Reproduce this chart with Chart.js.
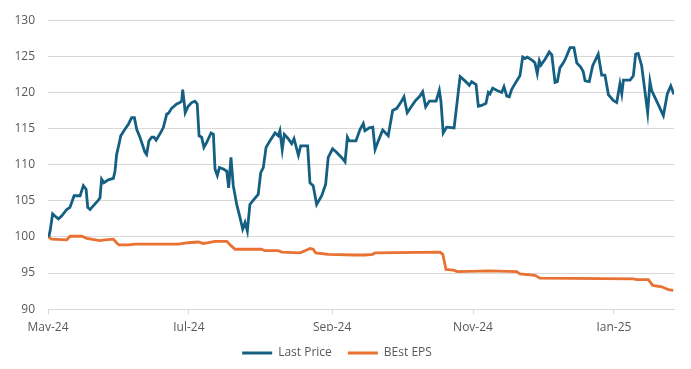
<!DOCTYPE html>
<html>
<head>
<meta charset="utf-8">
<script src="https://cdn.jsdelivr.net/npm/chart.js@4.4.1/dist/chart.umd.min.js"></script>
<style>
    html, body { margin: 0; padding: 0; background: #fff; }
</style>
</head>
<body>
<canvas id="priceChart" width="691" height="369"></canvas>
<script>
// x values are calendar days counted from 1 May 2024
const monthTicks = [0, 61, 123, 184, 245];
const monthLabels = ['May-24', 'Jul-24', 'Sep-24', 'Nov-24', 'Jan-25'];

const priceDays = [
    0.3, 0.9, 2.0, 3.0, 4.5, 5.9, 8.1, 9.5, 10.3, 11.3, 13.9, 15.3, 16.5, 17.2, 18.2, 19.6,
    21.8, 22.5, 23.2, 24.2, 26.1, 28.3, 29.0, 29.7, 30.7, 31.5, 33.3, 34.8, 36.2, 37.4, 38.4,
    39.8, 42.0, 42.7, 43.7, 44.9, 45.9, 46.8, 48.5, 49.9, 51.4, 52.1, 53.5, 55.7, 57.1, 57.9,
    58.3, 58.9, 59.4, 60.7, 62.2, 63.6, 64.6, 65.4, 66.5, 67.5, 68.7, 70.6, 71.6, 72.3, 73.3,
    74.2, 75.9, 77.4, 78.2, 79.2, 80.2, 81.7, 83.1, 84.3, 85.3, 86.3, 87.4, 88.9, 91.0, 92.1,
    93.2, 94.4, 96.1, 98.3, 99.7, 100.4, 101.4, 102.3, 104.0, 105.5, 106.5, 108.4, 109.4,
    112.4, 113.4, 114.8, 116.3, 118.5, 120.2, 121.3, 123.2, 125.0, 127.1, 128.6, 129.6, 130.4,
    133.3, 135.1, 136.5, 137.2, 139.1, 140.6, 141.6, 143.0, 144.9, 147.3, 149.2, 151.0, 152.7,
    154.1, 155.5, 157.4, 158.9, 161.0, 162.2, 163.5, 165.1, 168.0, 169.4, 170.1, 171.1, 172.6,
    175.8, 178.4, 180.5, 182.4, 183.4, 185.3, 186.3, 187.7, 189.6, 190.6, 191.3, 192.5, 194.2,
    196.4, 197.4, 198.6, 199.7, 200.7, 202.9, 204.3, 205.5, 206.5, 207.5, 209.8, 210.8, 211.8,
    212.7, 213.4, 215.2, 217.0, 218.1, 219.5, 220.5, 221.6, 223.1, 224.2, 226.0, 227.7, 228.9,
    230.6, 231.7, 232.5, 234.3, 235.8, 238.2, 239.7, 241.1, 242.6, 244.7, 246.2, 247.6, 248.4,
    249.1, 252.0, 253.4, 254.4, 255.5, 257.0, 258.4, 259.6, 260.6, 261.3, 263.5, 266.4, 268.1,
    269.6, 271.0
];
const priceValues = [
    100.0, 100.8, 103.2, 102.9, 102.5, 102.9, 103.8, 104.1, 104.8, 105.7, 105.7, 107.1, 106.6, 104.1, 103.8, 104.3,
    105.1, 105.4, 108.0, 107.5, 107.9, 108.1, 109.1, 111.4, 112.8, 114.0, 114.9, 115.6, 116.5, 116.5, 114.9,
    113.8, 111.7, 111.4, 113.3, 113.8, 113.8, 113.4, 114.3, 115.1, 117.0, 117.1, 117.8, 118.4, 118.6, 118.8,
    120.4, 118.8, 117.2, 118.1, 118.6, 118.8, 118.4, 114.0, 113.8, 112.4, 113.1, 114.4, 114.2, 109.4, 108.5,
    109.6, 109.4, 109.1, 106.8, 111.0, 107.1, 104.5, 102.7, 101.1, 102.0, 100.8, 104.5, 105.1, 105.9, 108.9,
    109.6, 112.4, 113.3, 114.4, 114.0, 114.7, 112.1, 114.2, 113.6, 112.9, 113.6, 111.3, 112.6,
    112.6, 107.5, 107.1, 104.5, 105.7, 107.3, 111.0, 112.2, 111.7, 111.0, 110.4, 113.8, 113.3,
    113.3, 114.9, 115.7, 114.7, 115.1, 115.2, 112.1, 113.3, 114.8, 114.0, 117.5, 117.8, 118.6,
    119.4, 117.2, 118.1, 118.8, 119.5, 120.1, 118.0, 118.8, 118.8, 120.3, 118.8, 114.4, 115.2,
    115.1, 122.2, 121.6, 121.0, 121.5, 121.1, 118.1, 118.2, 118.5, 120.0, 119.8, 120.6, 120.3,
    120.0, 120.8, 119.5, 119.4, 120.4, 121.6, 122.3, 124.9, 124.7, 124.9, 124.4, 124.1, 122.6,
    124.4, 123.8, 124.6, 125.6, 125.2, 121.4, 121.5, 123.4, 124.1, 124.8, 126.2, 126.2, 124.1,
    123.5, 122.9, 121.6, 121.5, 123.7, 125.3, 122.4, 122.4, 119.7, 118.9, 118.6, 121.2, 119.8,
    121.7, 121.7, 122.3, 125.3, 125.4, 123.7, 120.2, 117.2, 121.5, 120.3, 118.8, 116.8, 119.8,
    120.9, 119.7
];

const epsDays = [
    0.1, 1.6, 8.1, 9.5, 14.6, 16.8, 22.5, 24.7, 28.3, 29.7, 30.7, 34.8, 37.7, 56.4, 60.7, 65.1,
    67.2, 69.4, 72.3, 77.4, 79.2, 81.0, 92.5, 93.9, 99.7, 101.2, 109.1, 111.3, 113.4, 114.8,
    115.9, 121.3, 132.9, 137.2, 140.6, 141.6, 169.7, 170.9, 172.3, 175.5, 177.2, 191.3, 202.9,
    204.3, 210.8, 213.0, 253.4, 254.9, 259.9, 261.8, 265.7, 267.2, 268.6, 270.7
];
const epsValues = [
    100.0, 99.7, 99.6, 100.1, 100.1, 99.8, 99.5, 99.6, 99.7, 99.2, 98.9, 98.9, 99.0, 99.0, 99.2, 99.3,
    99.1, 99.2, 99.4, 99.4, 98.8, 98.3, 98.3, 98.1, 98.1, 97.9, 97.8, 98.1, 98.4, 98.3,
    97.8, 97.6, 97.5, 97.5, 97.6, 97.8, 97.9, 97.6, 95.5, 95.4, 95.2, 95.3, 95.2,
    94.9, 94.7, 94.3, 94.2, 94.1, 94.1, 93.3, 93.1, 92.9, 92.7, 92.6
];

const BLUE = '#156082';
const ORANGE = '#E97132';
const GRID = '#d9d9d9';

Chart.defaults.font.family = "'Open Sans', 'Noto Sans', sans-serif";
Chart.defaults.font.size = 12;
Chart.defaults.color = '#595959';

function toPoints(days, values) {
    return days.map((d, i) => ({ x: d, y: values[i] }));
}

const ctx = document.getElementById('priceChart').getContext('2d');
const chart = new Chart(ctx, {
    type: 'line',
    data: {
        datasets: [{
            label: 'Last Price',
            data: toPoints(priceDays, priceValues),
            borderColor: BLUE,
            backgroundColor: BLUE,
            borderWidth: 2.8,
            pointRadius: 0,
            tension: 0
        }, {
            label: 'BEst EPS',
            data: toPoints(epsDays, epsValues),
            borderColor: ORANGE,
            backgroundColor: ORANGE,
            borderWidth: 2.8,
            pointRadius: 0,
            tension: 0
        }]
    },
    options: {
        responsive: false,
        animation: false,
        layout: { padding: { top: 19, right: 17, left: 0, bottom: 0 } },
        plugins: {
            tooltip: { enabled: false },
            legend: {
                position: 'bottom',
                labels: {
                    boxWidth: 30,
                    boxHeight: 3,
                    padding: 16,
                    generateLabels: (c) => Chart.defaults.plugins.legend.labels.generateLabels(c)
                        .map((item) => ({ ...item, lineWidth: 0 }))
                }
            }
        },
        scales: {
            x: {
                type: 'linear',
                min: 0,
                max: 271,
                afterBuildTicks: (scale) => {
                    scale.ticks = monthTicks.map((v) => ({ value: v }));
                },
                afterFit: (scale) => { scale.height = 21.8; },
                ticks: {
                    padding: 6,
                    maxRotation: 0,
                    autoSkip: false,
                    callback: (value) => {
                        const i = monthTicks.indexOf(value);
                        return i >= 0 ? monthLabels[i] : '';
                    }
                },
                grid: { drawOnChartArea: false, drawTicks: true, tickLength: 5, color: GRID },
                border: { color: GRID }
            },
            y: {
                min: 90,
                max: 130,
                afterFit: (scale) => { scale.width = 48; },
                ticks: { stepSize: 5, padding: 13 },
                grid: { color: GRID, drawTicks: false },
                border: { display: false }
            }
        }
    }
});
</script>
</body>
</html>
